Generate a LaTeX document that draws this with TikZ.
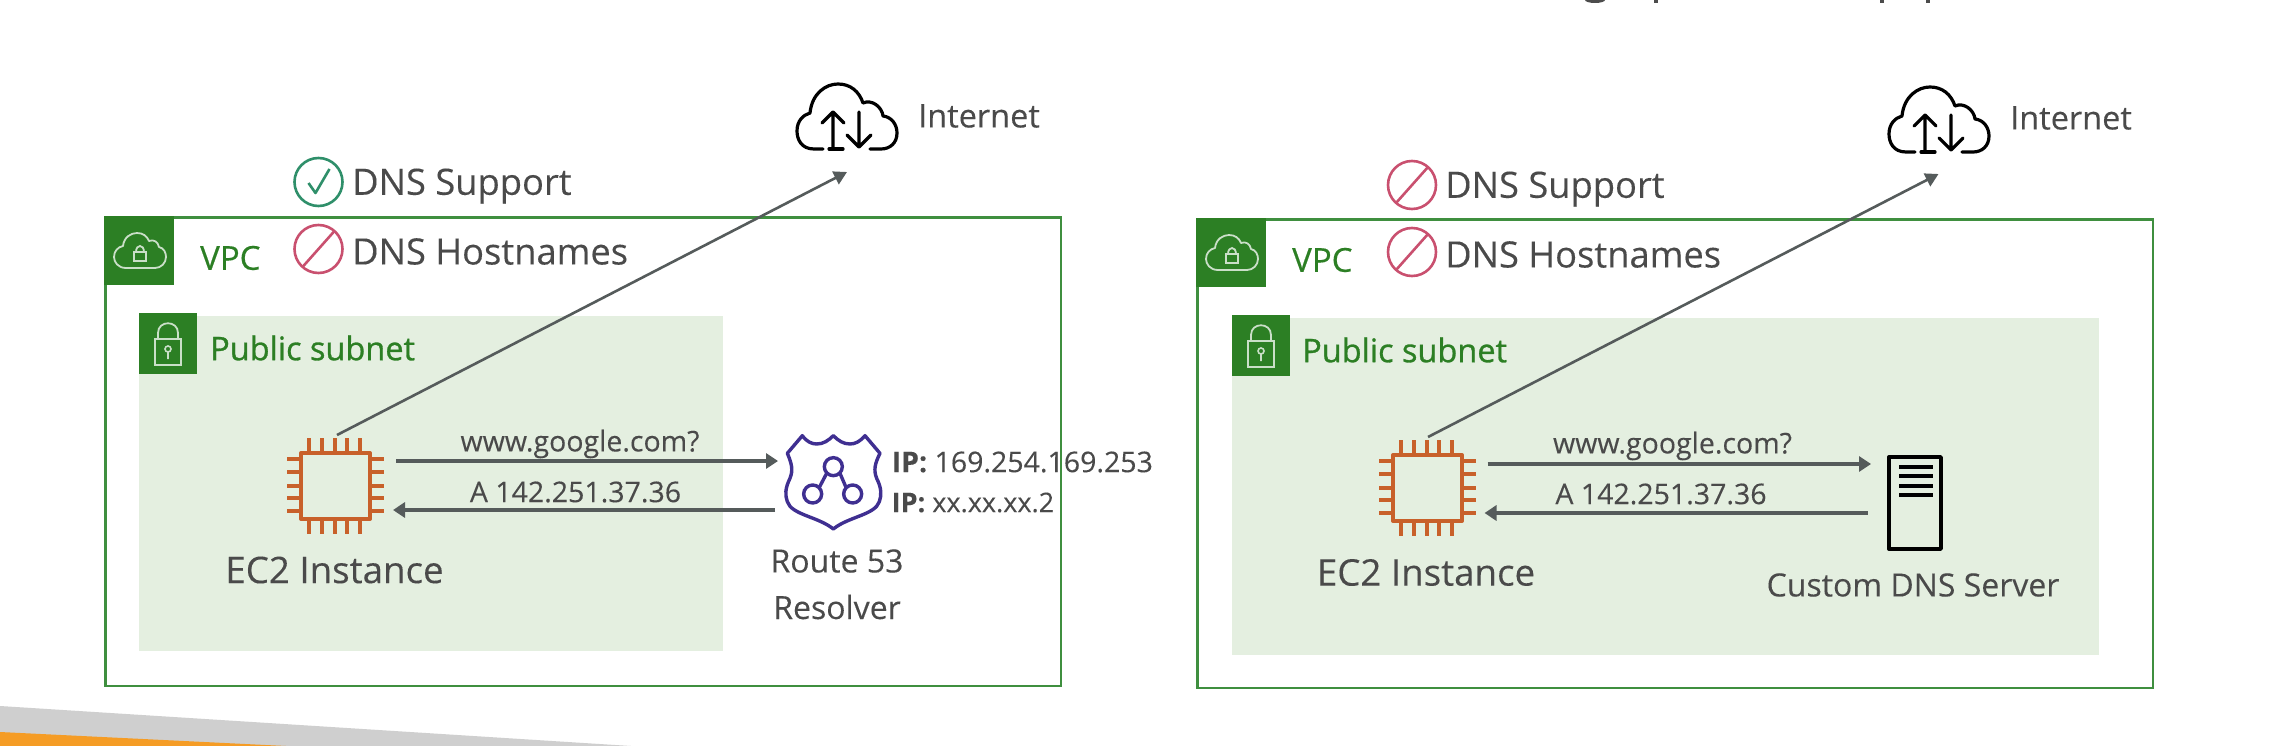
\documentclass[tikz,border=0pt]{standalone}
\usepackage{fontspec}
\setmainfont[FakeBold=0.15]{Open Sans}
\newfontfamily\semib[FakeBold=0.9]{Open Sans}
\newfontfamily\medb[FakeBold=0.4]{Open Sans}
\definecolor{vpcg}{HTML}{3F8F3F}
\definecolor{tagg}{HTML}{2C7F24}
\definecolor{subg}{HTML}{E4EFE0}
\definecolor{txtc}{HTML}{4A4A4A}
\definecolor{arrc}{HTML}{555B5B}
\definecolor{chipc}{HTML}{C8602A}
\definecolor{shc}{HTML}{3F2F91}
\definecolor{okc}{HTML}{2F8F6A}
\definecolor{noc}{HTML}{C9506F}
\definecolor{swg}{HTML}{CFCFCF}
\definecolor{swo}{HTML}{F59C25}
\usetikzlibrary{arrows.meta}
\tikzset{
  x=1pt,y=-1pt,
  lab/.style={inner sep=0pt,text=txtc,font=\fontsize{#1}{#1}\selectfont},
  lab/.default=28,
  link/.style={draw=arrc,line width=3.2pt,-{Triangle[length=12pt,width=15pt]}},
  uplink/.style={draw=arrc,line width=2.6pt,-{Triangle[length=13pt,width=14pt]}},
  vpcbox/.style={draw=vpcg,line width=2.6pt},
  pin/.style={draw=chipc,line width=3.4pt},
  blk/.style={draw=black,line width=3.2pt,line cap=round,line join=round},
}
% chip icon: body top-left at (#1,#2)
\newcommand{\chipicon}[2]{
  \begin{scope}[shift={(#1,#2)}]
    \draw[draw=chipc,line width=4pt,line join=round] (0,0) rectangle (69,66);
    \foreach \p in {8,21,34,46,59}{\draw[pin] (\p,-15) -- (\p,0); \draw[pin] (\p,66) -- (\p,81);}
    \foreach \p in {6,19,33,45,58}{\draw[pin] (-14,\p) -- (0,\p); \draw[pin] (69,\p) -- (83,\p);}
  \end{scope}}
% internet cloud: top-left at (#1,#2)
\newcommand{\netcloud}[2]{
  \begin{scope}[shift={(#1,#2)}]
    \draw[blk] (27,66) -- (18,66) .. controls (5,66) and (1,56) .. (1,48) .. controls (1,38) and (7,32) .. (14,30)
      .. controls (16,10) and (30,1) .. (42,1) .. controls (54,1) and (63,8) .. (67,20)
      .. controls (76,16) and (86,24) .. (87,33) .. controls (96,34) and (101,42) .. (101,50)
      .. controls (101,60) and (94,66) .. (85,66) -- (74,66);
    \draw[blk] (33,66) -- (47,66);
    \draw[blk] (37,66) -- (37,29) (26,40) -- (37,29) -- (48,40);
    \draw[blk] (63,29) -- (63,64) (51,52) -- (63,64) -- (75,52);
  \end{scope}}
\newcommand{\okicon}[2]{
  \draw[draw=okc,line width=2.6pt] (#1,#2) circle[radius=24];
  \draw[draw=okc,line width=2.6pt,line join=round] (#1-10,#2+1) -- (#1-3,#2+11) -- (#1+11,#2-13);}
\newcommand{\noicon}[2]{
  \draw[draw=noc,line width=2.6pt] (#1,#2) circle[radius=24];
  \draw[draw=noc,line width=2.6pt] (#1-16,#2+18) -- (#1+16,#2-18);}
\newcommand{\cloudtag}[2]{
  \begin{scope}[shift={(#1,#2)}]
    \fill[tagg] (0,0) rectangle (70,69);
    \draw[white!75!tagg,line width=1.8pt,line join=round]
      (22,52) .. controls (14,52) and (10,46) .. (10,41) .. controls (10,35) and (14,31) .. (19,30)
      .. controls (20,21) and (27,17) .. (33,17) .. controls (39,17) and (43,20) .. (45,25)
      .. controls (50,23) and (54,26) .. (55,31) .. controls (60,32) and (62,37) .. (62,41)
      .. controls (62,47) and (57,52) .. (51,52) -- cycle;
    \draw[white!75!tagg,line width=1.8pt] (30,36) rectangle (42,45);
    \draw[white!75!tagg,line width=1.8pt] (32,36) .. controls (32,28) and (40,28) .. (40,36);
  \end{scope}}
\newcommand{\locktag}[2]{
  \begin{scope}[shift={(#1,#2)}]
    \fill[tagg] (0,0) rectangle (58,61);
    \draw[white!75!tagg,line width=1.8pt] (16,26) rectangle (42,52);
    \draw[white!75!tagg,line width=1.8pt] (19,26) -- (19,20) .. controls (19,7) and (39,7) .. (39,20) -- (39,26);
    \draw[white!75!tagg,line width=1.6pt] (29,36) circle[radius=3] (29,39) -- (29,46);
  \end{scope}}
\begin{document}
\begin{tikzpicture}
\useasboundingbox (0,0) rectangle (2270,746);
\fill[white] (0,0) rectangle (2270,746);
% cut-off remains of a title at the top edge
\fill[black!70] (1595,0) ellipse[x radius=10,y radius=3];
\fill[black!70] (1654,0) rectangle (1658,3);
\fill[black!70] (1880,0) rectangle (1884,3);
\fill[black!70] (1926,0) rectangle (1930,3);
% bottom swoosh
\fill[swg] (0,706) -- (631,746) -- (0,746) -- cycle;
\fill[swo] (0,732) -- (286,746) -- (0,746) -- cycle;
% LEFT PANEL
\fill[subg] (139,316) rectangle (723,651);
\node[vpcbox,minimum width=955.5pt,minimum height=468.5pt,anchor=north west,inner sep=0pt] (vpcL) at (104,216) {};
\cloudtag{104}{216}
\locktag{139}{313}
\node[lab=33.5,text=tagg,anchor=west,font=\medb\fontsize{33}{33}\selectfont] (vpcLt) at (200,258) {VPC};
\node[lab=34,text=tagg,anchor=west,font=\semib\fontsize{32.5}{32.5}\selectfont] (subLt) at (210,348) {Public subnet};
\okicon{318.5}{182}
\noicon{318.5}{249}
\node[lab=36.3,anchor=west] (supL) at (352,186) {DNS Support};
\node[lab=36.3,anchor=west] (hostL) at (352,251.5) {DNS Hostnames};
\netcloud{796}{83}
\node[lab=32.5,anchor=west] (netL) at (918,116) {Internet};
\chipicon{301}{453}
\coordinate (ec2Lt) at (337,435);
\coordinate (netLa) at (847,172);
\draw[uplink] (ec2Lt) -- (netLa);
\coordinate (ec2Lo) at (396,461);
\coordinate (resLi) at (778,461);
\coordinate (resLo) at (775,510);
\coordinate (ec2Li) at (393,510);
\draw[link] (ec2Lo) -- (resLi);
\draw[link] (resLo) -- (ec2Li);
\node[lab=28.5] (qL) at (580,444) {www.google.com?};
\node[lab=28.5] (aL) at (575.5,492) {A 142.251.37.36};
\begin{scope}[shift={(760,420)},x=0.3333pt,y=-0.3333pt]
  \draw[draw=shc,line width=3.4pt,line join=round]
    (127,47) .. controls (140,65) and (155,72) .. (170,72) .. controls (190,72) and (205,62) .. (220,47)
    .. controls (235,62) and (250,72) .. (270,72) .. controls (285,72) and (300,65) .. (315,47)
    -- (360,100) .. controls (345,130) and (340,150) .. (350,175) .. controls (365,205) and (365,225) .. (358,245)
    .. controls (345,285) and (265,290) .. (220,327)
    .. controls (175,290) and (95,285) .. (82,245) .. controls (75,225) and (75,205) .. (90,175)
    .. controls (100,150) and (95,130) .. (82,100) -- cycle;
  \draw[draw=shc,line width=3.4pt] (220,140) circle[radius=27] (158,222) circle[radius=27] (278,222) circle[radius=27];
  \draw[draw=shc,line width=3.4pt] (200,160) -- (178,202) (240,160) -- (258,202);
\end{scope}
\node[lab=28.5,anchor=west] (ip1) at (891.5,462) {\textbf{IP:} 169.254.169.253};
\node[lab=27,anchor=west] (ip2) at (891.5,502.5) {\textbf{IP:} xx.xx.xx.2};
\node[lab=36.7] (ec2Lb) at (334.5,570) {EC2 Instance};
\node[lab=32] (r53) at (837,561) {Route 53};
\node[lab=32] (r53b) at (837,607) {Resolver};
% RIGHT PANEL
\fill[subg] (1232,318) rectangle (2099,655);
\node[vpcbox,minimum width=955.5pt,minimum height=468.5pt,anchor=north west,inner sep=0pt] (vpcR) at (1196,218) {};
\cloudtag{1196}{218}
\locktag{1232}{315}
\node[lab=33.5,text=tagg,anchor=west,font=\medb\fontsize{33}{33}\selectfont] (vpcRt) at (1292,260) {VPC};
\node[lab=34,text=tagg,anchor=west,font=\semib\fontsize{32.5}{32.5}\selectfont] (subRt) at (1302,350) {Public subnet};
\noicon{1412}{185}
\noicon{1412}{252}
\node[lab=36.3,anchor=west] (supR) at (1445,189) {DNS Support};
\node[lab=36.3,anchor=west] (hostR) at (1445,254.5) {DNS Hostnames};
\netcloud{1888}{86}
\node[lab=32.5,anchor=west] (netR) at (2010,118) {Internet};
\chipicon{1393}{455}
\coordinate (ec2Rt) at (1428,437);
\coordinate (netRa) at (1938.5,174);
\draw[uplink] (ec2Rt) -- (netRa);
\coordinate (ec2Ro) at (1487.5,464);
\coordinate (srvRo) at (1867.5,513);
\coordinate (srvRi) at (1871,464);
\coordinate (ec2Ri) at (1484.5,513);
\draw[link] (ec2Ro) -- (srvRi);
\draw[link] (srvRo) -- (ec2Ri);
\node[lab=28.5] (qR) at (1672.5,446) {www.google.com?};
\node[lab=28.5] (aR) at (1661,494) {A 142.251.37.36};
\draw[draw=black,line width=3.4pt,line join=round] (1889,457) rectangle (1941,549);
\foreach \yy in {467,476,486,495}{\draw[draw=black,line width=3.2pt] (1899,\yy) -- (1933,\yy);}
\node[lab=36.7] (ec2Rb) at (1426,572.5) {EC2 Instance};
\node[lab=32] (cds) at (1913,585) {Custom DNS Server};
\end{tikzpicture}
\end{document}
